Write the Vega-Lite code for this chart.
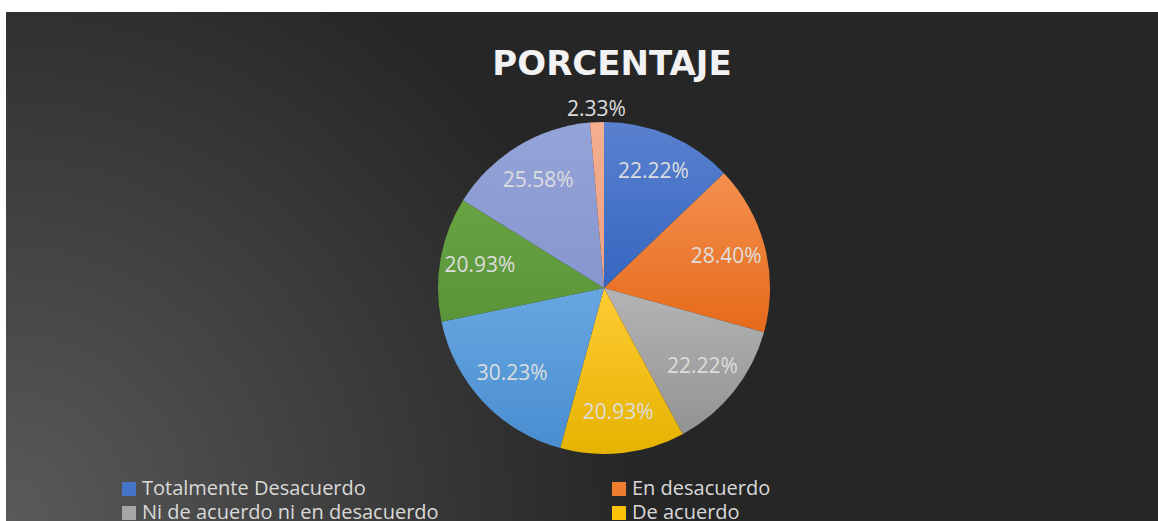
{
  "$schema": "https://vega.github.io/schema/vega-lite/v6.json",
  "width": 1152,
  "height": 509,
  "autosize": {"type": "none"},
  "padding": {"left": 6, "top": 12, "right": 0, "bottom": 0},
  "background": "#ffffff",
  "view": {
    "stroke": null,
    "fill": {
      "gradient": "radial",
      "x1": 0, "y1": 0.72, "r1": 0,
      "x2": 0, "y2": 0.72, "r2": 0.55,
      "stops": [
        {"offset": 0, "color": "#5a5a5a"},
        {"offset": 1, "color": "#262626"}
      ]
    }
  },
  "title": {
    "text": "PORCENTAJE",
    "font": "DejaVu Sans",
    "fontSize": 34,
    "fontWeight": "bold",
    "color": "#f2f2f2",
    "anchor": "middle",
    "baseline": "alphabetic",
    "offset": -97,
    "dx": 30
  },
  "data": {
    "values": [
      {"categoria": "Totalmente Desacuerdo", "valor": 0.2222, "orden": 1},
      {"categoria": "En desacuerdo", "valor": 0.2840, "orden": 2},
      {"categoria": "Ni de acuerdo ni en desacuerdo", "valor": 0.2222, "orden": 3},
      {"categoria": "De acuerdo", "valor": 0.2093, "orden": 4},
      {"categoria": "Totalmente de acuerdo", "valor": 0.3023, "orden": 5},
      {"categoria": "Muy de acuerdo", "valor": 0.2093, "orden": 6},
      {"categoria": "Indiferente", "valor": 0.2558, "orden": 7},
      {"categoria": "No responde", "valor": 0.0233, "orden": 8}
    ]
  },
  "encoding": {
    "theta": {"field": "valor", "type": "quantitative", "stack": true},
    "order": {"field": "orden", "type": "quantitative"}
  },
  "layer": [
    {
      "mark": {"type": "arc", "outerRadius": 166, "xOffset": 22, "yOffset": 21.5},
      "encoding": {
        "color": {
          "condition": [
            {"test": "datum.orden == 1", "value": {"gradient": "linear", "x1": 0, "y1": 0, "x2": 0, "y2": 1, "stops": [{"offset": 0, "color": "#5a81cf"}, {"offset": 1, "color": "#3566c0"}]}},
            {"test": "datum.orden == 2", "value": {"gradient": "linear", "x1": 0, "y1": 0, "x2": 0, "y2": 1, "stops": [{"offset": 0, "color": "#f4904f"}, {"offset": 1, "color": "#e66a1a"}]}},
            {"test": "datum.orden == 3", "value": {"gradient": "linear", "x1": 0, "y1": 0, "x2": 0, "y2": 1, "stops": [{"offset": 0, "color": "#b4b4b4"}, {"offset": 1, "color": "#939393"}]}},
            {"test": "datum.orden == 4", "value": {"gradient": "linear", "x1": 0, "y1": 0, "x2": 0, "y2": 1, "stops": [{"offset": 0, "color": "#ffcb35"}, {"offset": 1, "color": "#e5b300"}]}},
            {"test": "datum.orden == 5", "value": {"gradient": "linear", "x1": 0, "y1": 0, "x2": 0, "y2": 1, "stops": [{"offset": 0, "color": "#67a6e0"}, {"offset": 1, "color": "#4a8ed1"}]}},
            {"test": "datum.orden == 6", "value": {"gradient": "linear", "x1": 0, "y1": 0, "x2": 0, "y2": 1, "stops": [{"offset": 0, "color": "#67a343"}, {"offset": 1, "color": "#5b9539"}]}},
            {"test": "datum.orden == 7", "value": {"gradient": "linear", "x1": 0, "y1": 0, "x2": 0, "y2": 1, "stops": [{"offset": 0, "color": "#94a4d8"}, {"offset": 1, "color": "#8797cf"}]}},
            {"test": "datum.orden == 8", "value": {"gradient": "linear", "x1": 0, "y1": 0, "x2": 0, "y2": 1, "stops": [{"offset": 0, "color": "#f4ae90"}, {"offset": 1, "color": "#eda182"}]}}
          ],
          "field": "categoria",
          "type": "nominal",
          "sort": null,
          "scale": {
            "domain": ["Totalmente Desacuerdo", "En desacuerdo", "Ni de acuerdo ni en desacuerdo", "De acuerdo", "Totalmente de acuerdo", "Muy de acuerdo", "Indiferente", "No responde"],
            "range": ["#4774c8", "#ef7d30", "#a6a6a6", "#fcc207", "#5a9dd9", "#629c3f", "#8e9fd3", "#f1a88a"]
          },
          "legend": {
            "orient": "none",
            "direction": "horizontal",
            "legendX": 113,
            "legendY": 467,
            "columns": 2,
            "title": null,
            "padding": 0,
            "symbolType": "square",
            "symbolSize": 196,
            "symbolStrokeWidth": 0,
            "labelFont": "Open Sans",
            "labelFontSize": 20,
            "labelColor": "#d9d9d9",
            "labelOffset": 3,
            "labelLimit": 600,
            "rowPadding": 4,
            "columnPadding": 170
          }
        }
      }
    },
    {
      "mark": {
        "type": "text",
        "font": "Open Sans",
        "fontSize": 21,
        "xOffset": 22,
        "yOffset": 21.5,
        "baseline": "middle",
        "align": "center",
        "radius": {"expr": "datum.valor < 0.05 ? 178 : 126"}
      },
      "encoding": {
        "text": {"field": "valor", "type": "quantitative", "format": ".2%"},
        "color": {"value": "#dddddd"}
      }
    }
  ]
}
